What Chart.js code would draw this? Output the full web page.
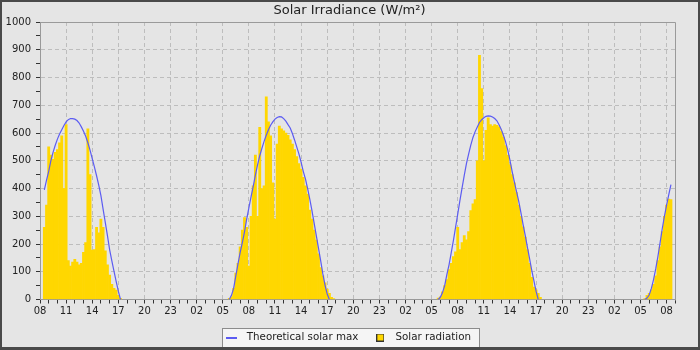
<!DOCTYPE html>
<html>
<head>
<meta charset="utf-8">
<script src="https://cdn.jsdelivr.net/npm/chart.js@4.4.0/dist/chart.umd.min.js"></script>
<style>
  html, body { margin: 0; padding: 0; background: #e5e5e5; }
  canvas { display: block; }
</style>
</head>
<body>
<canvas id="solarChart" width="700" height="350"></canvas>
<script>
// x positions are hours counted from 08:00 on the first day, one sample per 15 min
const hourLabels = ['08', '11', '14', '17', '20', '23', '02', '05',
                    '08', '11', '14', '17', '20', '23', '02', '05',
                    '08', '11', '14', '17', '20', '23', '02', '05', '08'];

const dayStarts = [0.5, 21.75, 45.75, 69.5]; // 08:30, 05:45, 05:45, 05:30
const step = 0.25;

// Theoretical solar max (W/m2)
const theoryDay1 = [395, 430, 462, 500, 530, 556, 578, 596, 612, 627, 640, 648, 652, 652, 650, 645, 636, 622,
  606, 588, 565, 538, 508, 478, 446, 412, 374, 326, 278, 230, 180, 140, 102, 65, 30, 0];
const theoryDay2 = [0, 15, 40, 85, 128, 170, 205, 244, 290, 330, 370, 408, 448, 485, 518, 545, 570, 592,
  612, 628, 640, 650, 656, 659, 658, 652, 643, 630, 618, 598, 575, 550, 525, 495, 462, 435, 400, 362,
  320, 275, 230, 185, 140, 92, 52, 20, 0, null, null];
const theoryDay3 = [0, 8, 25, 50, 90, 125, 168, 212, 260, 308, 356, 402, 447, 490, 524, 556, 584, 605,
  622, 638, 648, 655, 660, 662, 661, 658, 652, 644, 630, 613, 592, 568, 538, 502, 462, 425, 390, 355,
  315, 272, 232, 190, 148, 106, 68, 30, 0, null];
const theoryDay4 = [0, 5, 16, 40, 72, 110, 155, 204, 255, 300, 340, 378, 414];

// Measured solar radiation (W/m2)
const solarDay1 = [260, 340, 550, 520, 505, 530, 540, 565, 590, 400, 630, 140, 120, 135, 145, 135, 125, 130,
  170, 205, 615, 450, 178, 180, 260, 240, 290, 260, 175, 125, 88, 55, 40, 34, 15, 4];
const solarDay2 = [4, 10, 40, 95, 130, 190, 250, 295, 260, 120, 300, 410, 520, 300, 620, 400, 410, 730,
  640, 590, 420, 290, 560, 625, 615, 608, 600, 592, 575, 560, 540, 515, 490, 470, 440, 410, 380, 322,
  290, 250, 214, 165, 115, 85, 60, 38, 22, 8, 3];
const solarDay3 = [5, 10, 28, 50, 72, 108, 130, 155, 172, 260, 180, 205, 230, 215, 245, 320, 345, 360,
  500, 880, 760, 500, 610, 655, 630, 625, 630, 628, 622, 605, 585, 555, 520, 485, 450, 420, 385, 340,
  300, 262, 225, 180, 130, 80, 45, 35, 22, 8];
const solarDay4 = [3, 15, 22, 35, 55, 85, 140, 190, 245, 300, 340, 362, 360];

const theoryDays = [theoryDay1, theoryDay2, theoryDay3, theoryDay4];
const solarDays = [solarDay1, solarDay2, solarDay3, solarDay4];

function toPoints(days, breakAtNight) {
  const pts = [];
  days.forEach((values, d) => {
    values.forEach((v, i) => pts.push({x: dayStarts[d] + i * step, y: v}));
    // a null point so the line does not run along zero overnight
    if (breakAtNight) pts.push({x: dayStarts[d] + values.length * step, y: null});
  });
  return pts;
}

function makeIcon(w, h, draw) {
  const c = document.createElement('canvas');
  c.width = w;
  c.height = h;
  draw(c.getContext('2d'));
  return c;
}
const lineIcon = makeIcon(11, 2, g => { g.fillStyle = '#5c5cf2'; g.fillRect(0, 0, 11, 2); });
const boxIcon = makeIcon(8, 8, g => {
  g.fillStyle = '#333'; g.fillRect(0, 0, 8, 8);
  g.fillStyle = '#ffd700'; g.fillRect(1, 1, 6, 6);
});

// background, legend box, plot frame and outer border
const framePlugin = {
  id: 'frame',
  afterLayout(chart) {
    // title centred on the page, legend slightly left of it
    const t = chart.titleBlock;
    t.left += 11.85; t.right += 11.85;
    const lg = chart.legend;
    lg.top += 2.65; lg.bottom += 2.65;
    lg.left += 8.65; lg.right += 8.65;
  },
  beforeDraw(chart) {
    const {ctx, width, height} = chart;
    ctx.save();
    ctx.fillStyle = '#e5e5e5';
    ctx.fillRect(0, 0, width, height);
    const hb = chart.legend.legendHitBoxes;
    if (hb && hb.length) {
      const a = hb[0], b = hb[hb.length - 1];
      const cy = a.top + a.height / 2;
      const x0 = Math.round(a.left) + 0.5, x1 = Math.round(b.left + b.width + 8) + 0.5;
      const y0 = Math.round(cy - 9.5) + 0.5, y1 = Math.round(cy + 9.5) + 0.5;
      ctx.fillStyle = '#f5f5f5';
      ctx.fillRect(x0, y0, x1 - x0, y1 - y0);
      ctx.strokeStyle = '#8c8c8c';
      ctx.lineWidth = 1;
      ctx.strokeRect(x0, y0, x1 - x0, y1 - y0);
    }
    ctx.restore();
  },
  afterDraw(chart) {
    const {ctx, width, height, chartArea: a} = chart;
    ctx.save();
    ctx.strokeStyle = '#9a9a9a';
    ctx.lineWidth = 1;
    ctx.beginPath();
    ctx.moveTo(Math.round(a.left) + 0.5, Math.round(a.top) + 0.5);
    ctx.lineTo(Math.round(a.right) + 0.5, Math.round(a.top) + 0.5);
    ctx.lineTo(Math.round(a.right) + 0.5, Math.round(a.bottom) + 0.5);
    ctx.stroke();
    ctx.fillStyle = '#4a4a4a';
    ctx.fillRect(0, 0, width, 2);
    ctx.fillRect(0, 0, 2, height);
    ctx.fillRect(width - 2, 0, 2, height);
    ctx.fillRect(0, height - 3, width, 3);
    ctx.restore();
  }
};

Chart.defaults.font.family = "'DejaVu Sans', sans-serif";

const ctx = document.getElementById('solarChart');
const myChart = new Chart(ctx, {
  type: 'bar',
  data: {
    datasets: [{
      type: 'line',
      label: 'Theoretical solar max',
      data: toPoints(theoryDays, true),
      borderColor: '#5c5cf2',
      borderWidth: 1.2,
      pointRadius: 0,
      tension: 0,
      fill: false,
      spanGaps: false,
      order: 0
    }, {
      type: 'bar',
      label: 'Solar radiation',
      data: toPoints(solarDays, false),
      backgroundColor: '#ffd700',
      borderWidth: 0,
      barPercentage: 1,
      categoryPercentage: 1,
      order: 1
    }]
  },
  options: {
    responsive: false,
    animation: false,
    events: [],
    layout: { padding: { left: 0, right: 24.7, top: 0, bottom: 0 } },
    plugins: {
      title: {
        display: true,
        text: 'Solar Irradiance (W/m²)',
        color: '#222',
        font: { size: 13, weight: 'normal' },
        padding: { top: 3.2, bottom: 3.2 }
      },
      legend: {
        position: 'bottom',
        labels: {
          usePointStyle: true,
          pointStyleWidth: 20,
          padding: 12,
          color: '#222',
          font: { size: 10.3 },
          generateLabels: function(chart) {
            const items = Chart.defaults.plugins.legend.labels.generateLabels(chart);
            items.forEach(item => { item.pointStyle = item.datasetIndex === 0 ? lineIcon : boxIcon; });
            return items;
          }
        }
      },
      tooltip: { enabled: false }
    },
    scales: {
      x: {
        type: 'linear',
        min: 0,
        max: 73,
        offset: false,
        grid: {
          offset: false,
          color: c => (c.tick && c.tick.value % 3 === 0) ? '#bdbdbd' : 'rgba(0,0,0,0)',
          tickColor: '#333',
          tickLength: 4
        },
        border: { color: '#999', dash: [4, 3] },
        ticks: {
          stepSize: 1,
          autoSkip: false,
          maxRotation: 0,
          padding: 2,
          color: '#222',
          font: { size: 10 },
          callback: v => v % 3 === 0 ? hourLabels[v / 3] : ''
        },
        afterFit: s => { s.height = 18.2; }
      },
      y: {
        min: 0,
        max: 1000,
        grid: {
          color: c => (c.tick && c.tick.value % 100 === 0) ? '#bdbdbd' : 'rgba(0,0,0,0)',
          tickColor: '#333',
          tickLength: 4
        },
        border: { color: '#999', dash: [4, 3] },
        ticks: {
          stepSize: 50,
          autoSkip: false,
          padding: 5,
          color: '#222',
          font: { size: 10 },
          callback: v => v % 100 === 0 ? v : ''
        },
        afterFit: s => { s.width = 40; }
      }
    }
  },
  plugins: [framePlugin]
});
</script>
</body>
</html>
